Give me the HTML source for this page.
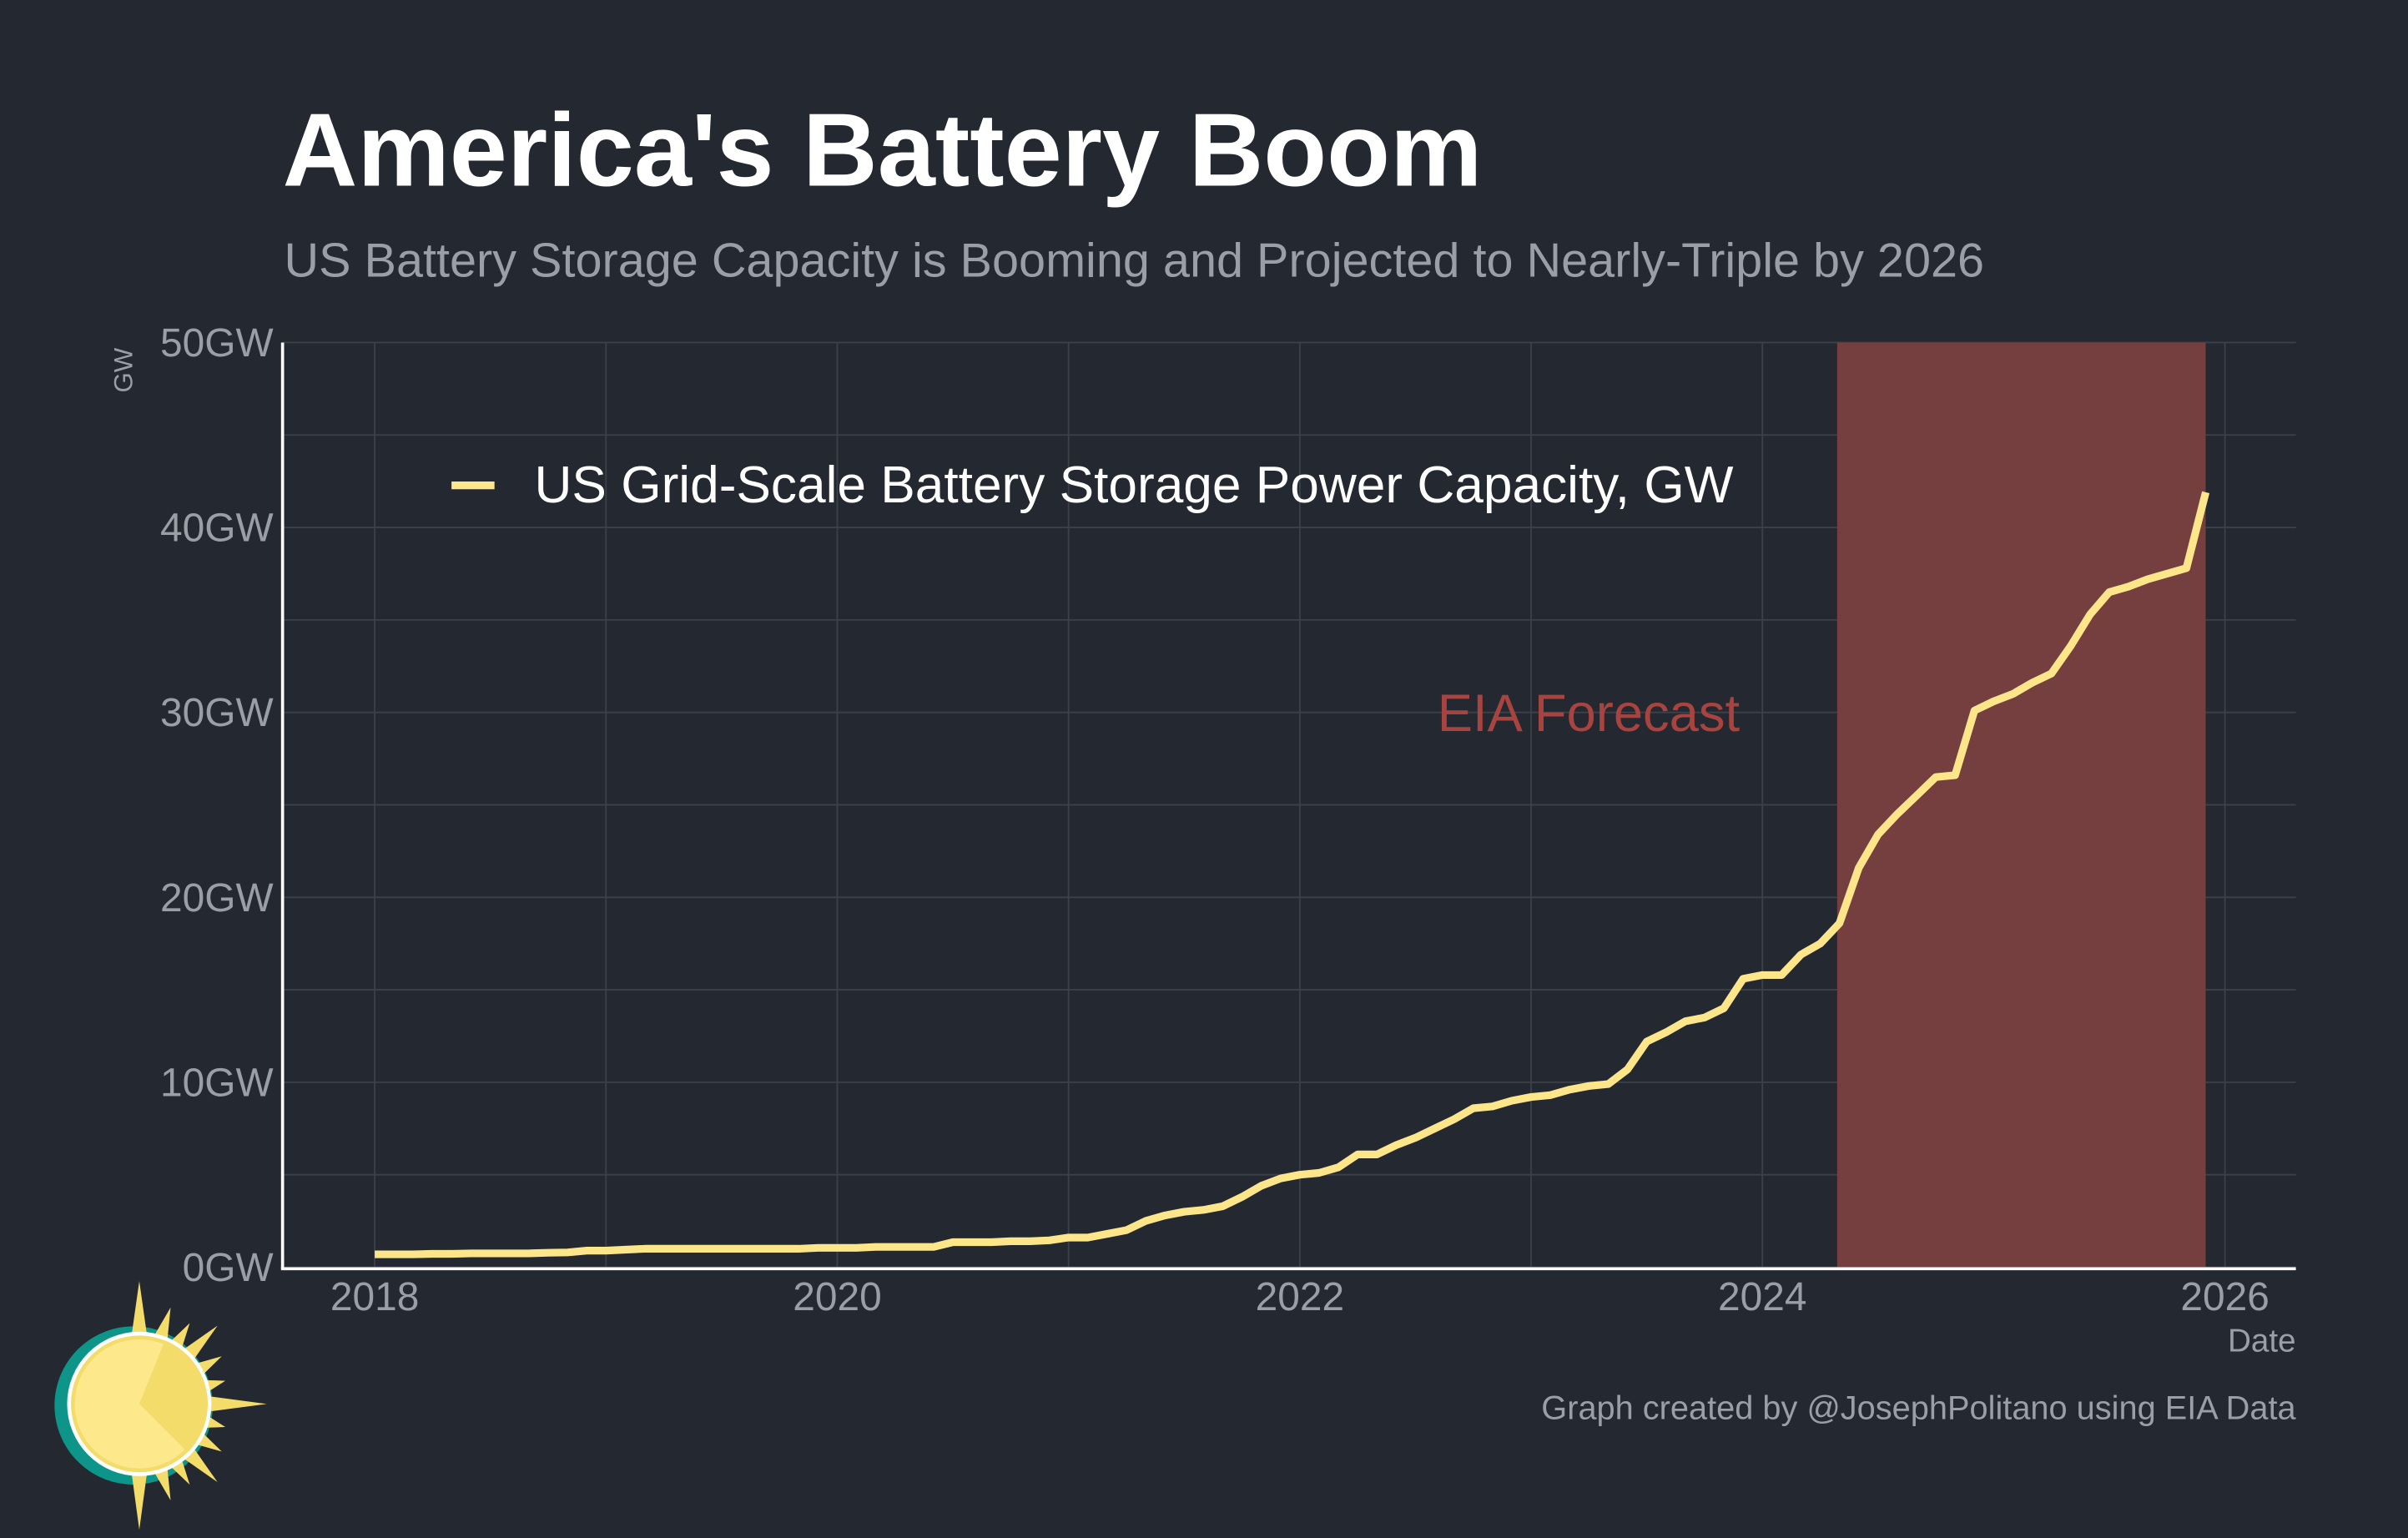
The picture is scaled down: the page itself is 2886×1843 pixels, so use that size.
<!DOCTYPE html>
<html><head><meta charset="utf-8"><style>
html,body{margin:0;padding:0;background:#242830;}
svg{display:block;}
text{font-family:"Liberation Sans",sans-serif;}
</style></head><body>
<svg id="chart" width="2886" height="1843" viewBox="0 0 1568 1001.3" preserveAspectRatio="none" xmlns="http://www.w3.org/2000/svg">
<rect x="0" y="0" width="1568" height="1002" fill="#242830"/>
<text x="184" y="121" font-size="67.5" font-weight="bold" fill="#ffffff">America's Battery Boom</text>
<text x="185" y="180" font-size="31.3" fill="#9a9ea6">US Battery Storage Capacity is Booming and Projected to Nearly-Triple by 2026</text>
<g id="grid"></g>
<g id="shade"></g>
<g id="axes"></g>
<text x="936" y="476" font-size="34.4" fill="#a8443f">EIA Forecast</text>
<g id="series"></g>
<g>
<line x1="294" y1="316" x2="322" y2="316" stroke="#fde68a" stroke-width="5"/>
<text x="348" y="327" font-size="33.8" fill="#ffffff">US Grid-Scale Battery Storage Power Capacity, GW</text>
</g>
<text x="1495" y="880" font-size="21" fill="#9a9ea6" text-anchor="end">Date</text>
<text x="86" y="241" font-size="17" fill="#9a9ea6" text-anchor="middle" transform="rotate(-90 86 241)">GW</text>
<text x="1495" y="924" font-size="21.6" fill="#9a9ea6" text-anchor="end">Graph created by @JosephPolitano using EIA Data</text>
<g id="logo">
<circle cx="87" cy="915" r="51.5" fill="#0e958a"/>
<g id="rays" fill="#f3dc6a"></g>
<circle cx="90.7" cy="914" r="47" fill="#ffffff"/>
<circle cx="90.7" cy="914" r="44.5" fill="#f3dc6a"/>
<circle cx="90.7" cy="914" r="42" fill="#fde98c"/>
<path d="M90.7 914 L107.4 872.7 A44.5 44.5 0 0 1 122.2 945.5 Z" fill="#f3dc6a"/>
</g>
</svg>
<script>
const categories = [];
for (let y = 2018; y <= 2025; y++) for (let m = 0; m < 12; m++) categories.push(y + m / 12);
const capacityGW = [
0.7,0.7,0.7,0.72,0.72,0.75,0.75,0.75,0.75,0.78,0.8,0.9,
0.9,0.95,1.0,1.0,1.0,1.0,1.0,1.0,1.0,1.0,1.0,1.05,
1.05,1.05,1.1,1.1,1.1,1.1,1.35,1.35,1.35,1.4,1.4,1.45,
1.6,1.6,1.8,2.0,2.5,2.8,3.0,3.1,3.3,3.8,4.4,4.8,
5.0,5.1,5.4,6.1,6.1,6.6,7.0,7.5,8.0,8.6,8.7,9.0,
9.2,9.3,9.6,9.8,9.9,10.7,12.2,12.7,13.3,13.5,14.0,15.6,
15.8,15.8,16.9,17.5,18.6,21.6,23.4,24.5,25.5,26.5,26.6,30.1,
30.6,31.0,31.6,32.1,33.6,35.3,36.5,36.8,37.2,37.5,37.8,41.9];
const xTicks = [2018,2020,2022,2024,2026];
const yTicks = [0,10,20,30,40,50];
const yTickLabels = ["0GW","10GW","20GW","30GW","40GW","50GW"];
const forecastRange = [2024 + 4/12 - 0.01, 2025 + 11/12];

const NS = "http://www.w3.org/2000/svg";
const X = v => 244 + (v - 2018) * 150.6;
const Y = v => 825 - v * 12.04;
function mk(parent, tag, attrs) {
  const e = document.createElementNS(NS, tag);
  for (const k in attrs) e.setAttribute(k, attrs[k]);
  document.getElementById(parent).appendChild(e);
  return e;
}
for (let yr = 2018; yr <= 2026; yr++) {
  const g = mk('grid','line',{x1:X(yr),x2:X(yr),y1:Y(50),y2:Y(0),stroke:'#3c4048','stroke-width':1});
  
  
}
for (let v = 0; v <= 50; v += 5) {
  const g = mk('grid','line',{x1:184,x2:1495,y1:Y(v),y2:Y(v),stroke:'#3c4048','stroke-width':1});
  
  
}
const sh = mk('shade','rect',{x:X(forecastRange[0]),y:Y(50),width:X(forecastRange[1])-X(forecastRange[0]),height:Y(0)-Y(50),fill:'#743f3e'});


const ax1 = mk('axes','line',{x1:184,x2:184,y1:Y(50),y2:Y(0)+1,stroke:'#ffffff','stroke-width':2});


const ax2 = mk('axes','line',{x1:183,x2:1495,y1:Y(0)+1,y2:Y(0)+1,stroke:'#ffffff','stroke-width':2});


xTicks.forEach(t => {
  const e = mk('axes','text',{x:X(t),y:853,'font-size':26,fill:'#9a9ea6','text-anchor':'middle'});
  e.textContent = t;
  
  
});
yTicks.forEach((t,i) => {
  const e = mk('axes','text',{x:178,y:Y(t)+9,'font-size':26,fill:'#9a9ea6','text-anchor':'end'});
  e.textContent = yTickLabels[i];
  
  
});
const pts = capacityGW.map((v,i) => X(categories[i]).toFixed(1) + ',' + Y(v).toFixed(1)).join(' ');
const ln = mk('series','polyline',{points:pts,fill:'none',stroke:'#fde68a','stroke-width':5,'stroke-linejoin':'round'});


// sun rays (decorative)
const cx = 90.7, cy = 914;
const angs = [-90,-72,-58,-45,-30,-15,0,15,30,45,58,72,90];
const lens = [80,66,62,72,62,58,83,58,62,72,62,66,82];
angs.forEach((a,i) => {
  const r = a*Math.PI/180, w = 0.09, L = lens[i], R0 = 40;
  const p = [[cx+R0*Math.cos(r-w*1.6),cy+R0*Math.sin(r-w*1.6)],[cx+L*Math.cos(r),cy+L*Math.sin(r)],[cx+R0*Math.cos(r+w*1.6),cy+R0*Math.sin(r+w*1.6)]];
  const e = mk('rays','polygon',{points:p.map(q=>q.join(',')).join(' ')});
  
  
});
</script>
</body></html>
